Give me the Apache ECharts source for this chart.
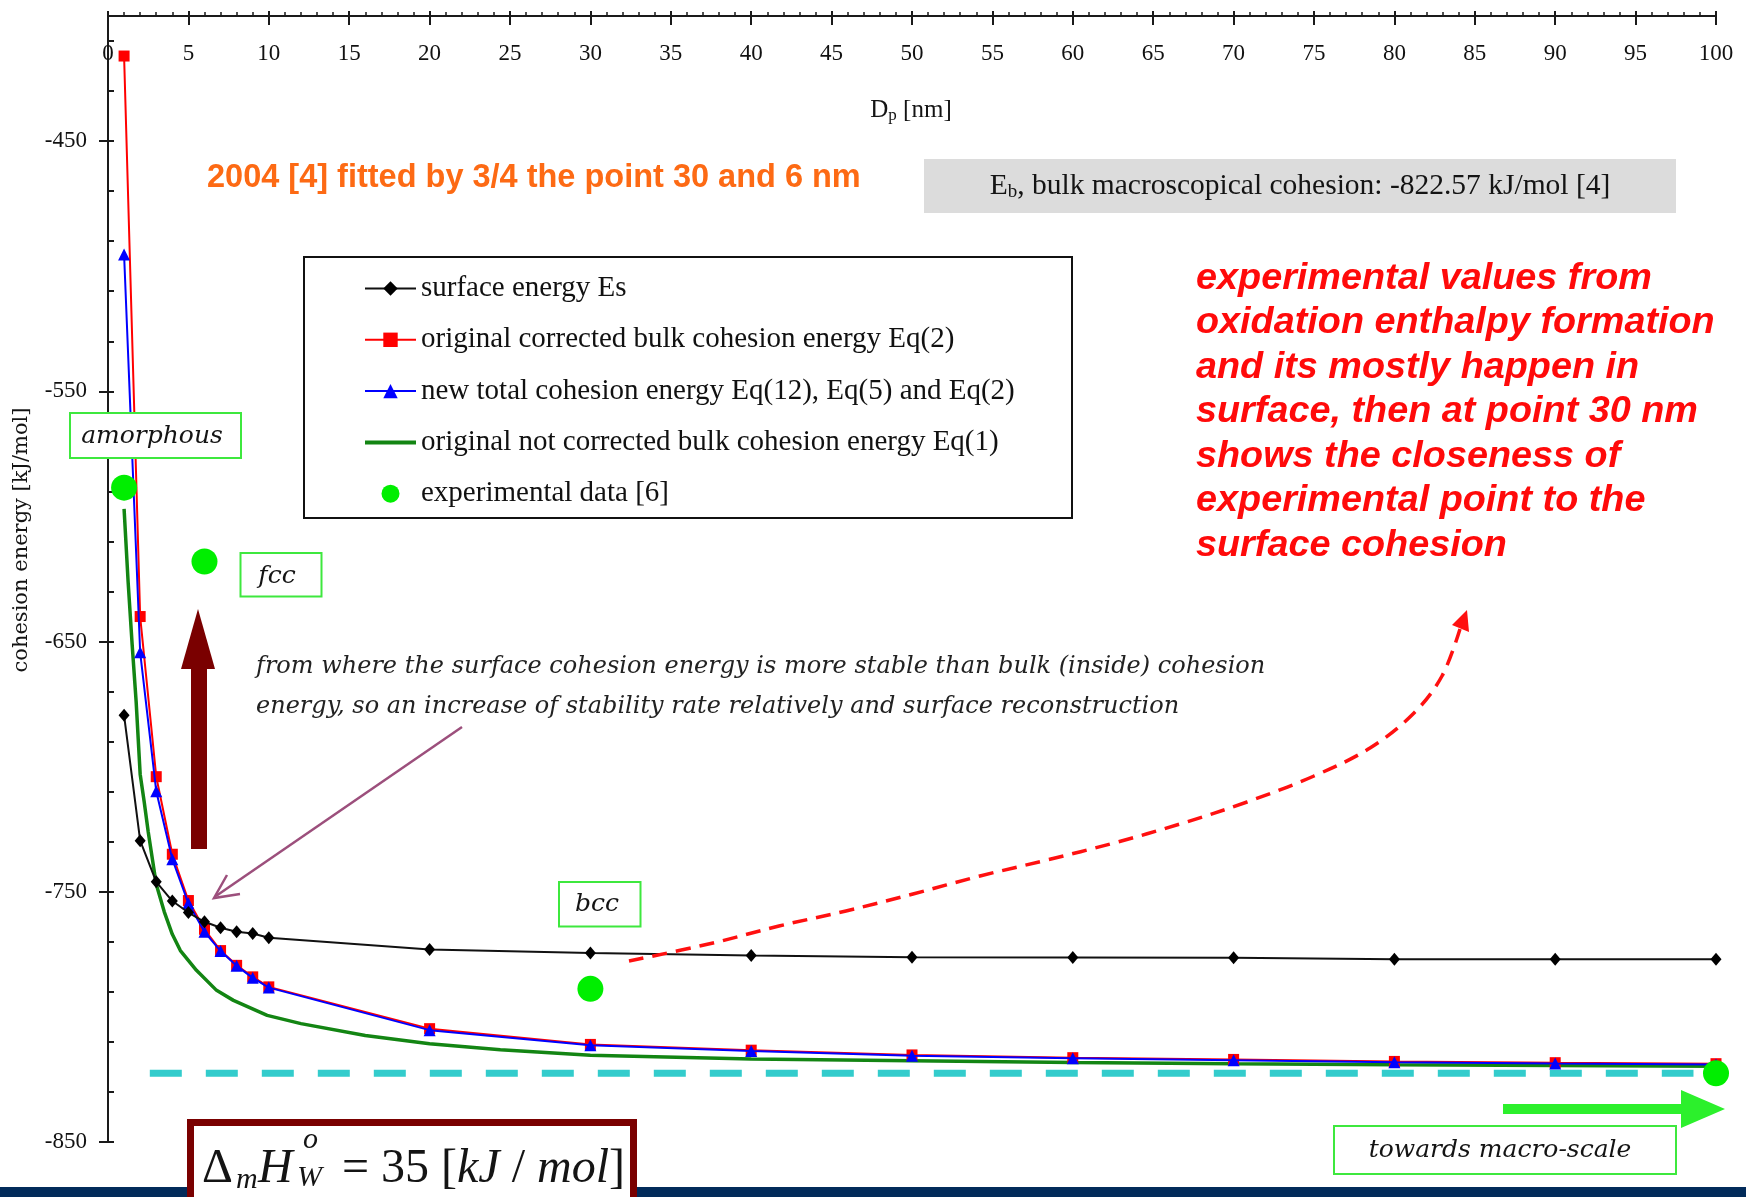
<!DOCTYPE html>
<html>
<head>
<meta charset="utf-8">
<script src="https://cdn.jsdelivr.net/npm/echarts@6/dist/echarts.min.js"></script>
<style>
  html, body { margin: 0; padding: 0; background: #fff; }
  #chart { width: 1746px; height: 1197px; }
</style>
</head>
<body>
<div id="chart"></div>
<script>
// Particle diameters Dp [nm] where the models were evaluated
const diameters = [1, 2, 3, 4, 5, 6, 7, 8, 9, 10, 20, 30, 40, 50, 60, 70, 80, 90, 100];
// surface energy Es [kJ/mol]
const surfaceEnergy = [-679.5, -729.6, -746, -753.7, -758.3, -762, -764.4, -766, -766.7, -768.4,
  -773.1, -774.5, -775.5, -776.2, -776.3, -776.4, -777, -777, -777];
// original corrected bulk cohesion energy, Eq(2)
const correctedBulk = [-416, -640, -704, -735, -753.5, -765, -773.5, -779.4, -784, -788,
  -804.7, -811, -813.3, -815.2, -816.3, -817, -817.8, -818.3, -818.7];
// new total cohesion energy, Eq(12), Eq(5) and Eq(2)
const totalCohesion = [-495.3, -654.3, -709.8, -737, -754.6, -766, -773.7, -779.6, -784.4, -788.3,
  -805.3, -811.3, -813.6, -815.5, -816.5, -817.3, -818.1, -818.6, -819];
// original not corrected bulk cohesion energy, Eq(1) (finer sampling, drawn as a plain curve)
const uncorrectedX = [1, 1.25, 1.5, 1.75, 2, 2.25, 2.5, 3, 3.5, 4, 4.5, 5.5, 6.75, 7.8, 9.9, 12, 16, 20,
  24.4, 30, 40, 50, 60, 70, 80, 90, 100];
const uncorrectedBulk = [-597, -626, -651, -674, -703, -714, -726, -747, -758, -767, -773.5, -781.4,
  -789.4, -793.4, -799.4, -802.7, -807.4, -810.7, -813.1, -815.3, -816.8, -817.5, -818.2, -818.7,
  -819.1, -819.4, -819.7];
// experimental data [6]
const experimentalX = [1, 6, 30, 100];
const experimentalY = [-588.5, -618, -788.8, -822.5];
// bulk macroscopical cohesion Eb [kJ/mol] and the span of its reference line
const bulkCohesion = -822.57;
const bulkSpanX = [2.6, 98.6];

// axis ticks
const xTickStep = 5;
const yTickLabels = [-850, -750, -650, -550, -450];
const yMinorTicks = [-850, -830, -810, -790, -770, -750, -730, -710, -690, -670, -650, -630, -610,
  -590, -570, -550, -530, -510, -490, -470, -450, -430, -410];

const seriesNames = [
  'surface energy Es',
  'original corrected bulk cohesion energy Eq(2)',
  'new total cohesion energy Eq(12), Eq(5) and Eq(2)',
  'original not corrected bulk cohesion energy Eq(1)',
  'experimental data [6]'
];

const serif = '"Liberation Serif", "Times New Roman", serif';
const sans = '"Liberation Sans", Arial, sans-serif';
const deja = '"DejaVu Serif", serif';
const ink = '#141414';

const pairs = (xs, ys) => xs.map((x, i) => [x, ys[i]]);

// text measuring for runs of mixed-size text (subscripts etc.)
const measureCtx = document.createElement('canvas').getContext('2d');
function textWidth(t, font) { measureCtx.font = font; return measureCtx.measureText(t).width; }

function textEl(text, font, x, y, opts) {
  opts = opts || {};
  return {
    type: 'text', x: x, y: y, z: opts.z == null ? 20 : opts.z, rotation: opts.rotation || 0,
    style: {
      text: text, font: font, fill: opts.fill || ink,
      align: opts.align || 'left', verticalAlign: 'middle',
      textAlign: opts.align || 'left', textVerticalAlign: 'middle',
      lineHeight: opts.lineHeight, rich: opts.rich
    }
  };
}

// pieces: {text, font, dy} laid out left to right, centred on x (or starting at x)
function textRun(pieces, x, midY, centred, z) {
  const widths = pieces.map(p => textWidth(p.text, p.font));
  const total = widths.reduce((a, b) => a + b, 0);
  let cx = centred ? x - total / 2 : x;
  return pieces.map((p, i) => {
    const el = textEl(p.text, p.font, cx, midY + (p.dy || 0), { z: z, fill: p.fill });
    cx += widths[i];
    return el;
  });
}

function box(x, y, w, h, stroke, fill, lw, z) {
  return { type: 'rect', z: z == null ? 10 : z, shape: { x: x, y: y, width: w, height: h },
    style: { stroke: stroke, fill: fill, lineWidth: lw } };
}

const green = '#3ee83e';
const labelFont = 'italic 25px ' + deja;

const graphics = [
  // bottom band
  box(0, 1187, 1746, 10, null, '#022b5a', 0, 0),
  // legend frame
  box(304, 257, 768, 261, '#111', '#fff', 2, 0),

  // headline note
  textEl('2004 [4] fitted by 3/4 the point 30 and 6 nm', 'bold 32.5px ' + sans, 207, 178, { fill: '#fd6a14' }),

  // bulk cohesion note
  box(924, 159, 752, 54, null, '#dcdcdc', 0, 5),
  ...textRun([
    { text: 'E', font: '29.5px ' + serif },
    { text: 'b', font: '19px ' + serif, dy: 6 },
    { text: ', bulk macroscopical cohesion: -822.57 kJ/mol [4]', font: '29.5px ' + serif }
  ], 1300, 186, true),

  // explanation block
  textEl('experimental values from\noxidation enthalpy formation\nand its mostly happen in\nsurface, then at point 30 nm\nshows the closeness of\nexperimental point to the\nsurface cohesion',
    'italic bold 37.8px ' + sans, 1196, 411.8, { fill: '#ff0a0a', lineHeight: 44.5 }),

  // phase labels
  box(70, 413, 171, 45, green, '#fff', 2),
  textEl('amorphous', labelFont, 152, 436, { align: 'center' }),
  box(240.5, 553, 81, 43.5, green, '#fff', 2),
  textEl('fcc', labelFont, 277, 576, { align: 'center' }),
  box(559, 882, 81.5, 44.5, green, '#fff', 2),
  textEl('bcc', labelFont, 597, 904, { align: 'center' }),
  box(1334, 1126, 342, 48, green, '#fff', 2),
  textEl('towards macro-scale', labelFont, 1500, 1150, { align: 'center' }),

  // stability arrow
  { type: 'rect', z: 10, shape: { x: 191, y: 668, width: 16, height: 181 }, style: { fill: '#7a0000' } },
  { type: 'polygon', z: 10, shape: { points: [[181, 669], [215, 669], [198, 609]] }, style: { fill: '#7a0000' } },

  // crossing-point remark
  textEl('from where the surface cohesion energy is more stable than bulk (inside) cohesion',
    'italic 24px ' + deja, 256, 667, { fill: '#222' }),
  textEl('energy, so an increase of stability rate relatively and surface reconstruction',
    'italic 24px ' + deja, 256, 707, { fill: '#222' }),
  { type: 'line', z: 10, shape: { x1: 462, y1: 727, x2: 216, y2: 896 },
    style: { stroke: '#9c4f7c', lineWidth: 2.5 } },
  { type: 'polyline', z: 10, shape: { points: [[227, 875], [214, 898], [240, 894]] },
    style: { stroke: '#9c4f7c', lineWidth: 2.5, fill: null } },

  // dashed pointer towards the explanation
  { type: 'polyline', z: 10, shape: { smooth: 0.35, points: [[629, 961], [713, 943], [779, 926], [846, 911],
      [913, 894], [980, 876], [1047, 860], [1114, 843], [1180, 824], [1247, 802], [1314, 776],
      [1370, 748], [1414, 713], [1442, 676], [1460, 629]] },
    style: { stroke: '#ff1010', lineWidth: 3.5, lineDash: [15, 9], fill: null } },
  { type: 'polygon', z: 10, shape: { points: [[1467, 610], [1469, 632], [1452, 625]] }, style: { fill: '#ff1010' } },

  // macro-scale arrow
  { type: 'rect', z: 10, shape: { x: 1503, y: 1104, width: 180, height: 10 }, style: { fill: '#2cf02c' } },
  { type: 'polygon', z: 10, shape: { points: [[1681, 1090], [1681, 1128], [1725, 1109]] }, style: { fill: '#2cf02c' } },

  // oxidation enthalpy formula
  box(190.5, 1122.5, 443, 90, '#7a0000', '#fff', 7, 30),
  textEl('\u0394', '48px ' + serif, 202, 1169, { z: 31 }),
  textEl('m', 'italic 30px ' + serif, 236, 1180, { z: 31 }),
  textEl('H', 'italic 48px ' + serif, 258, 1169, { z: 31 }),
  textEl('o', 'italic 30px ' + serif, 303, 1140, { z: 31 }),
  textEl('W', 'italic 30px ' + serif, 297, 1178, { z: 31 }),
  textEl('= 35 [{i|kJ} / {i|mol}]', '48px ' + serif, 342, 1169,
    { z: 31, rich: { i: { fontStyle: 'italic', fontSize: 48, fontFamily: 'Liberation Serif' } } }),

  // axis titles
  ...textRun([
    { text: 'D', font: '25px ' + serif },
    { text: 'p', font: '17px ' + serif, dy: 6 },
    { text: ' [nm]', font: '25px ' + serif }
  ], 911, 110, true),
  textEl('cohesion energy [kJ/mol]', '21px ' + deja, 22, 540,
    { align: 'center', rotation: Math.PI / 2 })
];

const axisColor = '#1a1a1a';

const option = {
  animation: false,
  backgroundColor: '#ffffff',
  grid: { left: 108, right: 30, top: 16, bottom: 55, containLabel: false, outerBoundsMode: 'none' },
  legend: {
    data: [
      { name: seriesNames[0] },
      { name: seriesNames[1] },
      { name: seriesNames[2] },
      { name: seriesNames[3], icon: 'path://M0,0H51V4H0Z' },
      { name: seriesNames[4], icon: 'circle' }
    ],
    orient: 'vertical',
    left: 304, top: 257,
    padding: [17, 10, 10, 60],
    itemGap: 22.3,
    itemWidth: 51,
    itemHeight: 18,
    selectedMode: false,
    textStyle: { fontFamily: serif, fontSize: 29, color: '#111' }
  },
  xAxis: [
    {
      type: 'value', position: 'top', min: 0, max: 100, interval: xTickStep,
      axisLine: { show: true, lineStyle: { color: axisColor, width: 2 } },
      axisTick: { show: true, inside: false, length: 5, lineStyle: { color: axisColor, width: 2 } },
      minorTick: { show: true, splitNumber: 5, length: 4, lineStyle: { color: axisColor, width: 1.5 } },
      axisLabel: { inside: true, margin: 26, interval: 0, color: '#111', fontFamily: serif, fontSize: 23 },
      splitLine: { show: false }, minorSplitLine: { show: false }
    },
    {
      type: 'value', position: 'top', min: 0, max: 100, interval: xTickStep,
      axisLine: { show: false },
      axisTick: { show: true, inside: true, length: 9, lineStyle: { color: axisColor, width: 2 } },
      axisLabel: { show: false }, splitLine: { show: false }
    }
  ],
  yAxis: [
    {
      type: 'value', position: 'left', min: -850, max: -400,
      axisLine: { show: true, lineStyle: { color: axisColor, width: 2 } },
      axisTick: { show: true, inside: false, length: 9, customValues: yTickLabels,
        lineStyle: { color: axisColor, width: 2 } },
      axisLabel: { customValues: yTickLabels, margin: 21, color: '#111', fontFamily: serif, fontSize: 23 },
      splitLine: { show: false }
    },
    {
      type: 'value', position: 'left', min: -850, max: -400,
      axisLine: { show: false },
      axisTick: { show: true, inside: true, length: 6, customValues: yMinorTicks,
        lineStyle: { color: axisColor, width: 2 } },
      axisLabel: { show: false }, splitLine: { show: false }
    }
  ],
  series: [
    {
      type: 'line', silent: true, symbol: 'none', z: 1,
      data: pairs(bulkSpanX, bulkSpanX.map(() => bulkCohesion)),
      lineStyle: { color: '#33cccc', width: 7, type: [32, 24] }
    },
    {
      name: seriesNames[3], type: 'line', symbol: 'none', z: 2,
      data: pairs(uncorrectedX, uncorrectedBulk),
      itemStyle: { color: '#138513' },
      lineStyle: { color: '#138513', width: 3.5 }
    },
    {
      name: seriesNames[1], type: 'line', symbol: 'rect', symbolSize: 11, z: 3,
      data: pairs(diameters, correctedBulk),
      itemStyle: { color: '#ff0000' },
      lineStyle: { color: '#ff0000', width: 2 }
    },
    {
      name: seriesNames[2], type: 'line', symbol: 'triangle', symbolSize: 12, z: 4,
      data: pairs(diameters, totalCohesion),
      itemStyle: { color: '#0000ff' },
      lineStyle: { color: '#0000ff', width: 2 }
    },
    {
      name: seriesNames[0], type: 'line', symbol: 'diamond', symbolSize: [11, 13], z: 5,
      data: pairs(diameters, surfaceEnergy),
      itemStyle: { color: '#000000' },
      lineStyle: { color: '#111111', width: 2 }
    },
    {
      name: seriesNames[4], type: 'scatter', symbol: 'circle', symbolSize: 26, z: 6,
      data: pairs(experimentalX, experimentalY),
      itemStyle: { color: '#00ee00', opacity: 1 }
    }
  ],
  graphic: { elements: graphics }
};

const chart = echarts.init(document.getElementById('chart'), null, { renderer: 'canvas' });
chart.setOption(option);
</script>
</body>
</html>
